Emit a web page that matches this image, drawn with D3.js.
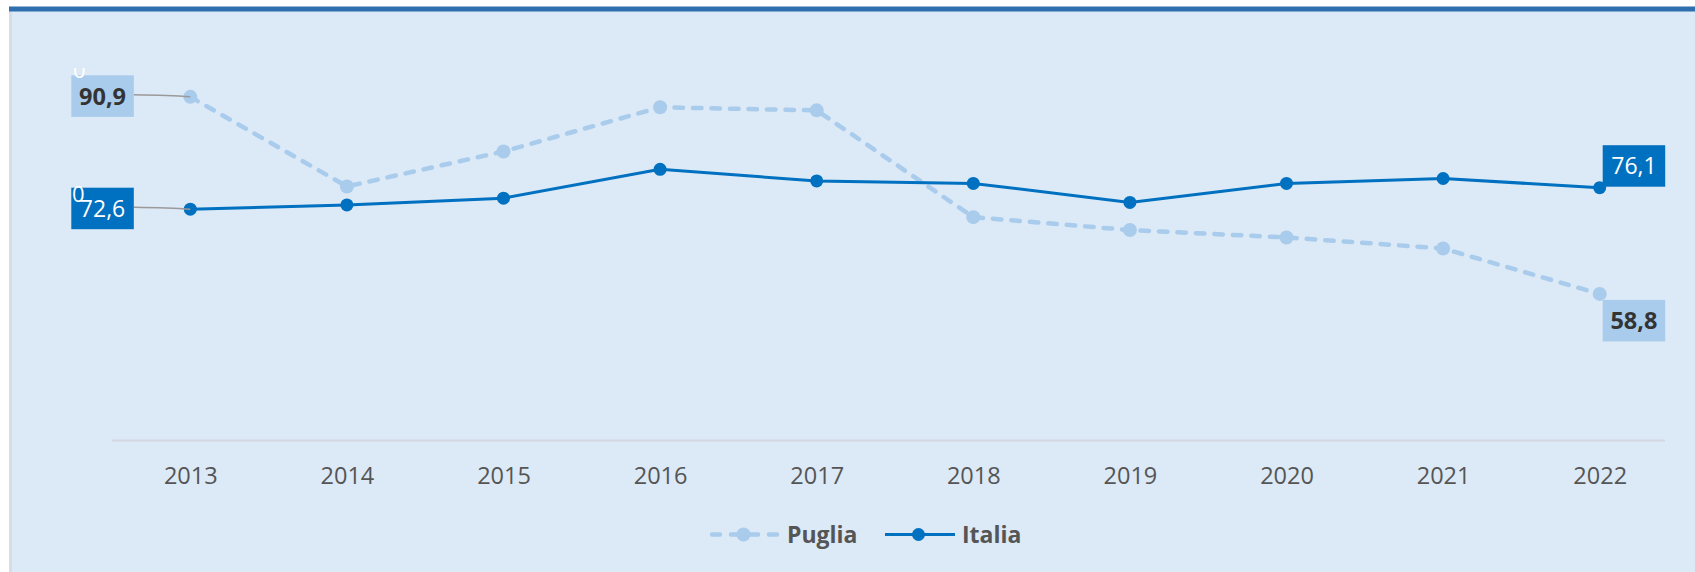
<!DOCTYPE html>
<html>
<head>
<meta charset="utf-8">
<script src="https://cdn.jsdelivr.net/npm/d3@7"></script>
<style>
  html, body { margin: 0; padding: 0; background: #fff; }
  svg { display: block; font-family: "Open Sans", "Noto Sans", sans-serif; }
</style>
</head>
<body>
<div id="viz"></div>
<script>
// data
var years = ["2013", "2014", "2015", "2016", "2017", "2018", "2019", "2020", "2021", "2022"];
var puglia = [90.9, 76.3, 82.0, 89.2, 88.7, 71.3, 69.2, 68.0, 66.2, 58.8];
var italia = [72.6, 73.3, 74.4, 79.1, 77.2, 76.8, 73.7, 76.8, 77.6, 76.1];
var seriesNames = ["Puglia", "Italia"];
var yDomain = [35, 100];

var width = 1695, height = 572;
var margin = {top: 41, bottom: 132, left: 112, right: 17};

var colors = {puglia: "#a9cbec", italia: "#0070c0", bg: "#dce9f6", text: "#555555", dark: "#333333"};

var svg = d3.select("#viz").append("svg")
    .attr("width", width)
    .attr("height", height);

// panel
svg.append("rect").attr("x", 9).attr("y", 11).attr("width", width - 9).attr("height", height - 11).style("fill", colors.bg);
svg.append("rect").attr("x", 9).attr("y", 11).attr("width", 3).attr("height", height - 11).style("fill", "#d9dde3");
svg.append("rect").attr("x", 9).attr("y", 6.5).attr("width", width - 9).attr("height", 5).style("fill", "#2f6fae");

var x = d3.scalePoint()
    .domain(years)
    .range([margin.left, 1678])
    .padding(0.5);

var y = d3.scaleLinear()
    .domain(yDomain)
    .range([height - margin.bottom, margin.top]);

var g = svg.append("g");

// x axis
var axis = g.append("g")
    .attr("transform", "translate(0," + y(yDomain[0]) + ")")
    .call(d3.axisBottom(x).tickSize(0).tickPadding(0));

axis.select(".domain").remove();
axis.selectAll("text")
    .attr("y", 44)
    .attr("dy", 0)
    .style("font-family", "\"Open Sans\", sans-serif")
    .style("font-size", "23.5px")
    .style("fill", colors.text);

g.append("line")
    .attr("x1", margin.left)
    .attr("x2", 1665)
    .attr("y1", y(yDomain[0]) + 0.5)
    .attr("y2", y(yDomain[0]) + 0.5)
    .style("stroke", "#d2d8df")
    .style("stroke-width", 2);

var line = d3.line()
    .x(function(d, i) { return x(years[i]); })
    .y(function(d) { return y(d); });

// puglia
g.append("path")
    .datum(puglia)
    .attr("d", line)
    .style("fill", "none")
    .style("stroke", colors.puglia)
    .style("stroke-width", 4.5)
    .style("stroke-linecap", "round")
    .style("stroke-dasharray", "8.5,10");

g.selectAll(".dot-p").data(puglia).enter().append("circle")
    .attr("class", "dot-p")
    .attr("cx", function(d, i) { return x(years[i]); })
    .attr("cy", function(d) { return y(d); })
    .attr("r", 7)
    .style("fill", colors.puglia);

// italia
g.append("path")
    .datum(italia)
    .attr("d", line)
    .style("fill", "none")
    .style("stroke", colors.italia)
    .style("stroke-width", 3);

g.selectAll(".dot-i").data(italia).enter().append("circle")
    .attr("class", "dot-i")
    .attr("cx", function(d, i) { return x(years[i]); })
    .attr("cy", function(d) { return y(d); })
    .attr("r", 6.5)
    .style("fill", colors.italia);

// value labels
var fmt = function(v) { return d3.format(".1f")(v).replace(".", ","); };
var boxW = 62.5, boxH = 41.5;

var labels = [
  {v: puglia[0], i: 0, side: "left", fill: colors.puglia, color: colors.dark, weight: "bold"},
  {v: italia[0], i: 0, side: "left", fill: colors.italia, color: "#fff", weight: "normal"},
  {v: italia[9], i: 9, side: "above", fill: colors.italia, color: "#fff", weight: "normal"},
  {v: puglia[9], i: 9, side: "below", fill: colors.puglia, color: colors.dark, weight: "bold"}
];

labels.forEach(function(d){
  var px = x(years[d.i]), py = y(d.v), bx, by;
  if (d.side == "left") {
    bx = px - 119;
    by = py - 21.5;
    g.append("path")
        .attr("d", "M" + (bx + boxW) + "," + (py - 2) + " Q" + (px - 20) + "," + (py - 1.5) + " " + px + "," + py)
        .style("fill", "none")
        .style("stroke", "#9a9a9a")
        .style("stroke-width", 1.5);
  } else if (d.side == "above") {
    bx = px + 3;
    by = py - boxH - 1;
  } else {
    bx = px + 3;
    by = py + 6;
  }
  g.append("rect")
      .attr("x", bx).attr("y", by)
      .attr("width", boxW).attr("height", boxH)
      .style("fill", d.fill);
  g.append("text")
      .attr("x", bx + boxW / 2)
      .attr("y", by + boxH / 2 + 8.5)
      .text(fmt(d.v))
      .style("text-anchor", "middle")
      .style("font-size", d.weight == "bold" ? "23.5px" : "23px")
      .style("font-weight", d.weight)
      .style("fill", d.color);
});

// stray white glyphs that peek out behind the first labels
var clip = svg.append("defs").append("clipPath").attr("id", "peek");
clip.append("rect").attr("x", 60).attr("y", 68).attr("width", 40).attr("height", 20);
g.append("text")
    .attr("x", 73).attr("y", 78)
    .attr("clip-path", "url(#peek)")
    .text("0")
    .style("font-size", "22px")
    .style("fill", "#fff");
g.append("text")
    .attr("x", 72).attr("y", 202)
    .text("0")
    .style("font-size", "22px")
    .style("fill", "#fff");

// legend
var legend = svg.append("g").attr("class", "legend");
var ly = 534.5;

legend.append("line")
    .attr("x1", 712).attr("x2", 778)
    .attr("y1", ly).attr("y2", ly)
    .style("stroke", colors.puglia)
    .style("stroke-width", 4.5)
    .style("stroke-linecap", "round")
    .style("stroke-dasharray", "8,11");
legend.append("circle").attr("cx", 743.5).attr("cy", ly).attr("r", 7).style("fill", colors.puglia);
legend.append("text")
    .attr("x", 787).attr("y", ly + 8)
    .text(seriesNames[0])
    .style("font-size", "23px")
    .style("font-weight", "bold")
    .style("fill", colors.text);

legend.append("line")
    .attr("x1", 885).attr("x2", 955)
    .attr("y1", ly).attr("y2", ly)
    .style("stroke", colors.italia)
    .style("stroke-width", 3);
legend.append("circle").attr("cx", 918.5).attr("cy", ly).attr("r", 6.5).style("fill", colors.italia);
legend.append("text")
    .attr("x", 962).attr("y", ly + 8)
    .text(seriesNames[1])
    .style("font-size", "23px")
    .style("font-weight", "bold")
    .style("fill", colors.text);
</script>
</body>
</html>
